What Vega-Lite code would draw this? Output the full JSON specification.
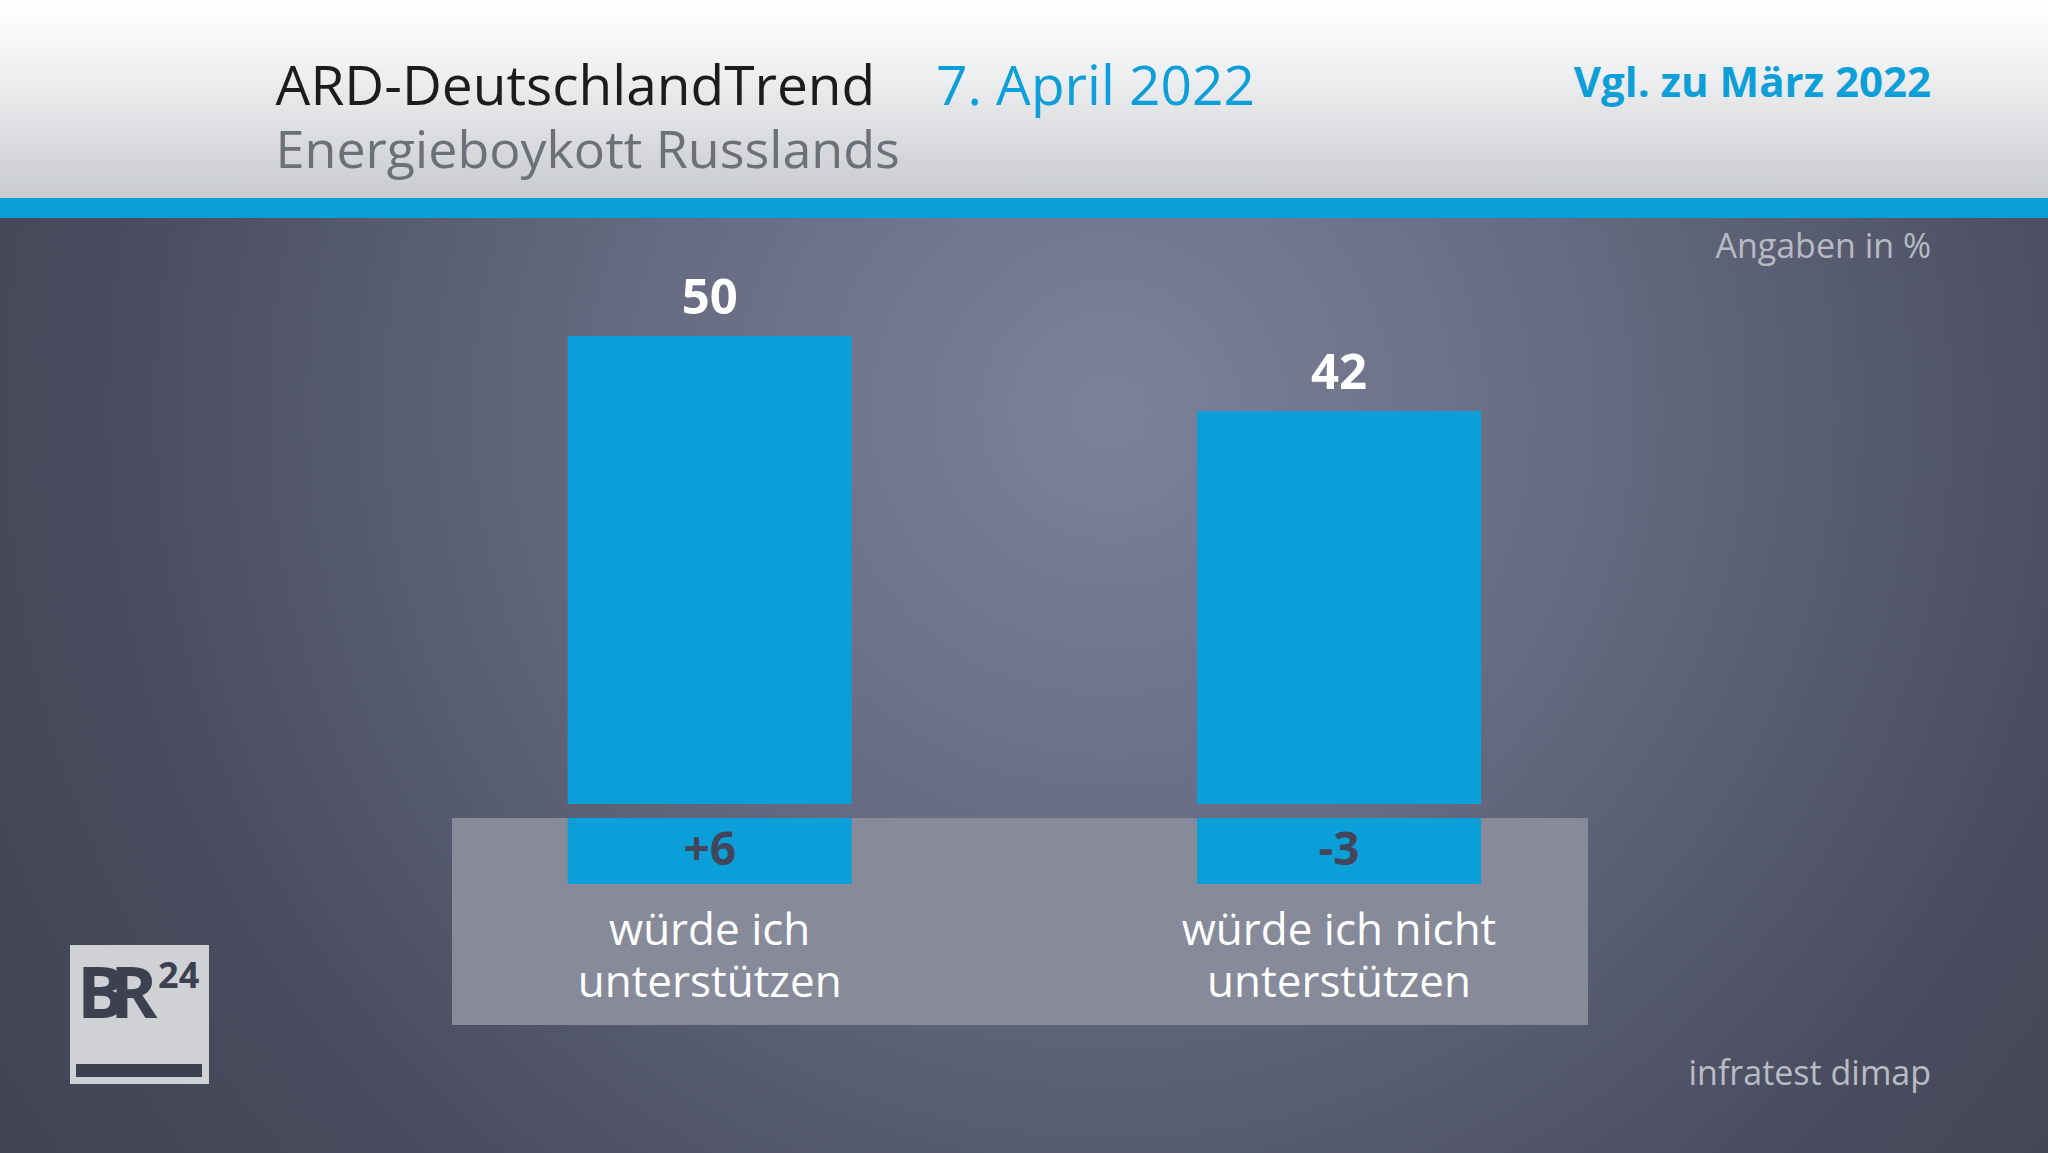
{
  "$schema": "https://vega.github.io/schema/vega-lite/v6.json",
  "width": 2048,
  "height": 1153,
  "autosize": "none",
  "padding": 0,
  "background": "#3a3c4a",
  "config": {"view": {"stroke": null}, "font": "Open Sans", "text": {"font": "Open Sans"}},
  "resolve": {"scale": {"x": "independent"}},
  "layer": [
    {
      "data": {"values": [{}]},
      "layer": [
        {
          "mark": {"type": "rect", "fill": {"gradient": "radial", "x1": 0.542, "y1": 0.366, "r1": 0, "x2": 0.542, "y2": 0.366, "r2": 0.8,
            "stops": [{"offset": 0, "color": "#7d8299"}, {"offset": 0.3, "color": "#666a80"}, {"offset": 0.6, "color": "#4a4d5f"}, {"offset": 0.85, "color": "#3e4150"}, {"offset": 1, "color": "#3a3c4a"}]}},
          "encoding": {
            "x": {"datum": 0, "type": "quantitative", "scale": {"domain": [0, 100], "nice": false, "zero": false}, "axis": null},
            "x2": {"datum": 100},
            "y": {"datum": 62.61, "type": "quantitative", "scale": {"domain": [-37.286, 85.897], "nice": false, "zero": false}, "axis": null},
            "y2": {"datum": -37.286}
          }
        },
        {
          "mark": {"type": "rect", "fill": {"gradient": "linear", "x1": 0, "y1": 0, "x2": 0, "y2": 1,
            "stops": [{"offset": 0, "color": "#ffffff"}, {"offset": 0.3, "color": "#f2f3f4"}, {"offset": 1, "color": "#c8cbcf"}]}},
          "encoding": {
            "x": {"datum": 0, "type": "quantitative", "scale": {"domain": [0, 100], "nice": false, "zero": false}, "axis": null},
            "x2": {"datum": 100},
            "y": {"datum": 85.897, "type": "quantitative", "scale": {"domain": [-37.286, 85.897], "nice": false, "zero": false}, "axis": null},
            "y2": {"datum": 64.74}
          }
        },
        {
          "mark": {"type": "rect", "fill": "#0b9fd8"},
          "encoding": {
            "x": {"datum": 0, "type": "quantitative", "scale": {"domain": [0, 100], "nice": false, "zero": false}, "axis": null},
            "x2": {"datum": 100},
            "y": {"datum": 64.74, "type": "quantitative", "scale": {"domain": [-37.286, 85.897], "nice": false, "zero": false}, "axis": null},
            "y2": {"datum": 62.61}
          }
        },
        {
          "mark": {"type": "rect", "fill": "#878a98"},
          "encoding": {
            "x": {"datum": 22.07, "type": "quantitative", "scale": {"domain": [0, 100], "nice": false, "zero": false}, "axis": null},
            "x2": {"datum": 77.54},
            "y": {"datum": -1.496, "type": "quantitative", "scale": {"domain": [-37.286, 85.897], "nice": false, "zero": false}, "axis": null},
            "y2": {"datum": -23.61}
          }
        },
        {
          "mark": {"type": "text", "text": "ARD-DeutschlandTrend", "align": "left", "baseline": "alphabetic", "fontSize": 55, "fill": "#1c1c1e"},
          "encoding": {
            "x": {"datum": 13.457, "type": "quantitative", "scale": {"domain": [0, 100], "nice": false, "zero": false}, "axis": null},
            "y": {"datum": 74.68, "type": "quantitative", "scale": {"domain": [-37.286, 85.897], "nice": false, "zero": false}, "axis": null}
          }
        },
        {
          "mark": {"type": "text", "text": "7. April 2022", "align": "left", "baseline": "alphabetic", "fontSize": 55, "fill": "#0f9fd8"},
          "encoding": {
            "x": {"datum": 45.7, "type": "quantitative", "scale": {"domain": [0, 100], "nice": false, "zero": false}, "axis": null},
            "y": {"datum": 74.68, "type": "quantitative", "scale": {"domain": [-37.286, 85.897], "nice": false, "zero": false}, "axis": null}
          }
        },
        {
          "mark": {"type": "text", "text": "Energieboykott Russlands", "align": "left", "baseline": "alphabetic", "fontSize": 52, "fill": "#6c7079"},
          "encoding": {
            "x": {"datum": 13.457, "type": "quantitative", "scale": {"domain": [0, 100], "nice": false, "zero": false}, "axis": null},
            "y": {"datum": 67.95, "type": "quantitative", "scale": {"domain": [-37.286, 85.897], "nice": false, "zero": false}, "axis": null}
          }
        },
        {
          "mark": {"type": "text", "text": "Vgl. zu März 2022", "align": "right", "baseline": "alphabetic", "fontSize": 42, "fontWeight": "bold", "fill": "#0f9fd8"},
          "encoding": {
            "x": {"datum": 94.29, "type": "quantitative", "scale": {"domain": [0, 100], "nice": false, "zero": false}, "axis": null},
            "y": {"datum": 75.53, "type": "quantitative", "scale": {"domain": [-37.286, 85.897], "nice": false, "zero": false}, "axis": null}
          }
        },
        {
          "mark": {"type": "text", "text": "Angaben in %", "align": "right", "baseline": "alphabetic", "fontSize": 34, "fill": "#b6bac3"},
          "encoding": {
            "x": {"datum": 94.29, "type": "quantitative", "scale": {"domain": [0, 100], "nice": false, "zero": false}, "axis": null},
            "y": {"datum": 58.33, "type": "quantitative", "scale": {"domain": [-37.286, 85.897], "nice": false, "zero": false}, "axis": null}
          }
        },
        {
          "mark": {"type": "text", "text": "infratest dimap", "align": "right", "baseline": "alphabetic", "fontSize": 34, "fill": "#b9bcc4"},
          "encoding": {
            "x": {"datum": 94.29, "type": "quantitative", "scale": {"domain": [0, 100], "nice": false, "zero": false}, "axis": null},
            "y": {"datum": -30.02, "type": "quantitative", "scale": {"domain": [-37.286, 85.897], "nice": false, "zero": false}, "axis": null}
          }
        },
        {
          "mark": {"type": "rect", "fill": "#d0d1d5"},
          "encoding": {
            "x": {"datum": 3.418, "type": "quantitative", "scale": {"domain": [0, 100], "nice": false, "zero": false}, "axis": null},
            "x2": {"datum": 10.205},
            "y": {"datum": -15.06, "type": "quantitative", "scale": {"domain": [-37.286, 85.897], "nice": false, "zero": false}, "axis": null},
            "y2": {"datum": -29.91}
          }
        },
        {
          "mark": {"type": "rect", "fill": "#3d4050"},
          "encoding": {
            "x": {"datum": 3.711, "type": "quantitative", "scale": {"domain": [0, 100], "nice": false, "zero": false}, "axis": null},
            "x2": {"datum": 9.863},
            "y": {"datum": -27.78, "type": "quantitative", "scale": {"domain": [-37.286, 85.897], "nice": false, "zero": false}, "axis": null},
            "y2": {"datum": -29.17}
          }
        },
        {
          "mark": {"type": "text", "text": "B", "align": "left", "baseline": "alphabetic", "fontSize": 72, "fontWeight": "bold", "fill": "#3d4050"},
          "encoding": {
            "x": {"datum": 3.76, "type": "quantitative", "scale": {"domain": [0, 100], "nice": false, "zero": false}, "axis": null},
            "y": {"datum": -22.86, "type": "quantitative", "scale": {"domain": [-37.286, 85.897], "nice": false, "zero": false}, "axis": null}
          }
        },
        {
          "mark": {"type": "text", "text": "R", "align": "left", "baseline": "alphabetic", "fontSize": 72, "fontWeight": "bold", "fill": "#3d4050"},
          "encoding": {
            "x": {"datum": 5.37, "type": "quantitative", "scale": {"domain": [0, 100], "nice": false, "zero": false}, "axis": null},
            "y": {"datum": -22.86, "type": "quantitative", "scale": {"domain": [-37.286, 85.897], "nice": false, "zero": false}, "axis": null}
          }
        },
        {
          "mark": {"type": "text", "text": "24", "align": "left", "baseline": "alphabetic", "fontSize": 36, "fontWeight": "bold", "fill": "#3d4050"},
          "encoding": {
            "x": {"datum": 7.72, "type": "quantitative", "scale": {"domain": [0, 100], "nice": false, "zero": false}, "axis": null},
            "y": {"datum": -19.66, "type": "quantitative", "scale": {"domain": [-37.286, 85.897], "nice": false, "zero": false}, "axis": null}
          }
        }
      ]
    },
    {
      "data": {"values": [
        {"kategorie": "würde ich unterstützen", "label": ["würde ich", "unterstützen"], "wert": 50, "veraenderung": "+6"},
        {"kategorie": "würde ich nicht unterstützen", "label": ["würde ich nicht", "unterstützen"], "wert": 42, "veraenderung": "-3"}
      ]},
      "encoding": {
        "x": {"field": "kategorie", "type": "nominal", "sort": null, "axis": null,
          "scale": {"range": [395, 1653.7], "paddingInner": 0.5487, "paddingOuter": 0.27435}}
      },
      "layer": [
        {
          "mark": {"type": "bar", "fill": "#0a9fd9"},
          "encoding": {
            "y": {"field": "wert", "type": "quantitative", "scale": {"domain": [-37.286, 85.897], "nice": false, "zero": false}, "axis": null},
            "y2": {"datum": 0}
          }
        },
        {
          "mark": {"type": "text", "align": "center", "baseline": "alphabetic", "dy": -22, "fontSize": 49, "fontWeight": "bold", "fill": "#ffffff"},
          "encoding": {
            "y": {"field": "wert", "type": "quantitative", "scale": {"domain": [-37.286, 85.897], "nice": false, "zero": false}, "axis": null},
            "text": {"field": "wert", "type": "quantitative"}
          }
        },
        {
          "mark": {"type": "bar", "fill": "#0a9fd9"},
          "encoding": {
            "y": {"datum": -1.496, "type": "quantitative", "scale": {"domain": [-37.286, 85.897], "nice": false, "zero": false}, "axis": null},
            "y2": {"datum": -8.547}
          }
        },
        {
          "mark": {"type": "text", "align": "center", "baseline": "alphabetic", "fontSize": 46, "fontWeight": "bold", "fill": "#43465a"},
          "encoding": {
            "y": {"datum": -6.517, "type": "quantitative", "scale": {"domain": [-37.286, 85.897], "nice": false, "zero": false}, "axis": null},
            "text": {"field": "veraenderung", "type": "nominal"}
          }
        },
        {
          "mark": {"type": "text", "align": "center", "baseline": "alphabetic", "fontSize": 44, "lineHeight": 52, "fill": "#ffffff"},
          "encoding": {
            "y": {"datum": -15.06, "type": "quantitative", "scale": {"domain": [-37.286, 85.897], "nice": false, "zero": false}, "axis": null},
            "text": {"field": "label", "type": "nominal"}
          }
        }
      ]
    }
  ]
}
